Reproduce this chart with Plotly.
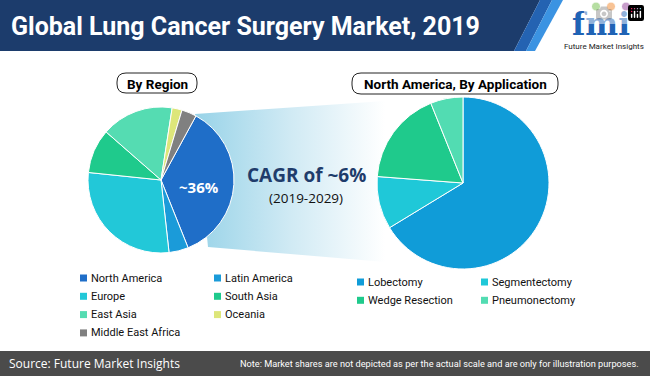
import plotly.graph_objects as go

# ---------------- data ----------------
region_labels = ["North America", "Latin America", "Europe", "South Asia",
                 "East Asia", "Oceania", "Middle East Africa"]
region_values = [36.0, 4.3, 28.4, 9.8, 16.0, 2.2, 3.3]
region_colors = ["#1f6ec8", "#1b9bd9", "#22c8d8", "#1fca8c", "#55dcb2", "#dde67a", "#808080"]

app_labels = ["Lobectomy", "Segmentectomy", "Wedge Resection", "Pneumonectomy"]
app_values = [66.3, 9.9, 17.7, 6.1]
app_colors = ["#109cd8", "#1fc8d8", "#1fca8c", "#52dcb2"]

title_text = "Global Lung Cancer Surgery Market, 2019"
cagr_text = "CAGR of ~6%"
cagr_period = "(2019-2029)"
source_text = "Source: Future Market Insights"
note_text = "Note: Market shares are not depicted as per the actual scale and are only for illustration purposes."

W, H = 650, 376
COND = "Roboto, Liberation Sans, sans-serif"
OPEN = "Open Sans, Noto Sans, sans-serif"


def dom(cx, cy, r):
    return dict(x=[(cx - r) / W, (cx + r) / W], y=[1 - (cy + r) / H, 1 - (cy - r) / H])


fig = go.Figure()

# funnel gradient from left pie to right pie
fig.add_trace(go.Scatter(
    x=[195, 385, 385, 208, 195], y=[114, 101, 262, 247, 114],
    mode="lines", line=dict(width=0), fill="toself",
    fillgradient=dict(type="horizontal",
                      colorscale=[[0, "#98d3e8"], [0.5, "#d0eaf4"], [1, "#ffffff"]]),
    hoverinfo="skip", showlegend=False))

fig.add_trace(go.Pie(
    labels=region_labels, values=region_values, sort=False, direction="clockwise",
    rotation=28.6, marker=dict(colors=region_colors, line=dict(color="white", width=1)),
    textinfo="none", showlegend=False, domain=dom(161, 180, 73)))

fig.add_trace(go.Pie(
    labels=app_labels, values=app_values, sort=False, direction="clockwise",
    rotation=0, marker=dict(colors=app_colors, line=dict(color="white", width=1)),
    textinfo="none", showlegend=False, domain=dom(463, 183, 86)))

shapes = []
ann = []

# banner
shapes.append(dict(type="path", path="M0,0 L540,0 L514,51 L0,51 Z",
                   fillcolor="#1c3c6c", line=dict(width=0), layer="below"))
shapes.append(dict(type="path", path="M540,0 L552,0 L526,51 L514,51 Z",
                   fillcolor="#2463b2", line=dict(width=0), layer="below"))
shapes.append(dict(type="path", path="M552,0 L563,0 L535,51 L526,51 Z",
                   fillcolor="#3b93e2", line=dict(width=0), layer="below"))
ann.append(dict(x=9, y=26, text=f"<b>{title_text}</b>", xanchor="left", yanchor="middle",
                showarrow=False, font=dict(family=COND, size=25, color="white")))

# logo
ann.append(dict(x=601, y=24, text="<b>fmi</b>", xanchor="center", yanchor="middle",
                showarrow=False, font=dict(family="DejaVu Serif", size=31, color="#1f63b5")))
for cx, col in [(596, "#6cbd45"), (611, "#f0872a"), (626, "#8e3b94")]:
    shapes.append(dict(type="circle", x0=cx - 4.5, x1=cx + 4.5, y0=2, y1=11,
                       fillcolor=col, line=dict(color="white", width=1)))
ann.append(dict(x=604, y=46.5, text="Future Market Insights", xanchor="center", yanchor="middle",
                showarrow=False, font=dict(family=COND, size=8, color="#222")))


def rounded(x0, y0, x1, y1, r):
    return (f"M{x0+r},{y0} L{x1-r},{y0} Q{x1},{y0} {x1},{y0+r} L{x1},{y1-r} "
            f"Q{x1},{y1} {x1-r},{y1} L{x0+r},{y1} Q{x0},{y1} {x0},{y1-r} "
            f"L{x0},{y0+r} Q{x0},{y0} {x0+r},{y0} Z")


shapes.append(dict(type="path", path=rounded(117, 73, 197, 93, 9),
                   fillcolor="white", line=dict(color="#222", width=1)))
ann.append(dict(x=157, y=83.5, text="<b>By Region</b>", showarrow=False,
                font=dict(family=COND, size=13.5, color="black")))
shapes.append(dict(type="path", path=rounded(352, 73, 558, 94, 9),
                   fillcolor="white", line=dict(color="#222", width=1)))
ann.append(dict(x=455, y=84, text="<b>North America, By Application</b>", showarrow=False,
                font=dict(family=COND, size=13.5, color="black")))

# center texts
ann.append(dict(x=199, y=187, text=f"<b>~{round(region_values[0])}%</b>", showarrow=False,
                font=dict(family=OPEN, size=15, color="white")))
ann.append(dict(x=306, y=175, text=f"<b>{cagr_text}</b>", showarrow=False,
                font=dict(family=OPEN, size=19, color="#1f3c6b")))
ann.append(dict(x=306, y=198, text=cagr_period, showarrow=False,
                font=dict(family=OPEN, size=13.5, color="#111")))


# legends
def legend(labels, colors, xs, y0, dy, sq):
    for i, (lab, col) in enumerate(zip(labels, colors)):
        r, c = divmod(i, 2)
        xq = xs[c]
        yc = y0 + r * dy
        shapes.append(dict(type="rect", x0=xq, x1=xq + sq, y0=yc - sq / 2, y1=yc + sq / 2,
                           fillcolor=col, line=dict(width=0)))
        ann.append(dict(x=xq + sq + 2, y=yc, text=lab, xanchor="left", yanchor="middle",
                        showarrow=False, font=dict(family=COND, size=11, color="#111")))


legend(region_labels, region_colors, [80, 214], 278, 18.3, 7)
legend(app_labels, app_colors, [357, 481], 282, 18.3, 7)

# footer
shapes.append(dict(type="rect", x0=0, x1=W, y0=351, y1=H, fillcolor="#4b4b4b",
                   line=dict(width=0)))
ann.append(dict(x=7, y=363.5, text=source_text, xanchor="left", yanchor="middle",
                showarrow=False, font=dict(family=OPEN, size=12, color="white")))
ann.append(dict(x=641, y=363.5, text=note_text, xanchor="right", yanchor="middle",
                showarrow=False, font=dict(family=COND, size=9.2, color="white")))

fig.update_layout(
    width=W, height=H, margin=dict(l=0, r=0, t=0, b=0),
    paper_bgcolor="white", plot_bgcolor="white",
    xaxis=dict(range=[0, W], visible=False, fixedrange=True),
    yaxis=dict(range=[H, 0], visible=False, fixedrange=True),
    shapes=[dict(s, xref="x", yref="y") for s in shapes],
    annotations=[dict(a, xref="x", yref="y") for a in ann],
    showlegend=False,
)

fig.write_html("out.html",
               post_script="document.body.style.margin='0';document.body.style.overflow='hidden';")
